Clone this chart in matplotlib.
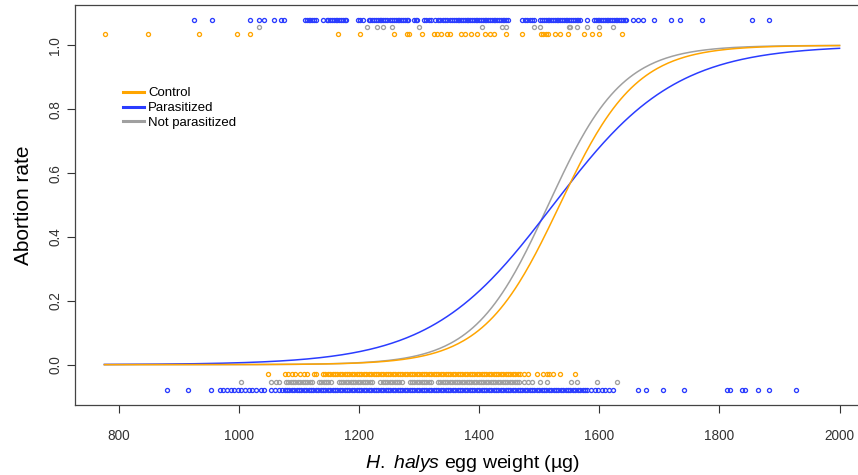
import numpy as np
import matplotlib
matplotlib.use("Agg")
import matplotlib.pyplot as plt

plt.rcParams["font.family"] = ["Liberation Sans", "DejaVu Sans"]
plt.rcParams["mathtext.fontset"] = "custom"
plt.rcParams["mathtext.it"] = "Liberation Sans:italic"
plt.rcParams["mathtext.rm"] = "Liberation Sans"

# logistic fits: (midpoint, slope)
groups = ["Control", "Parasitized", "Not parasitized"]
colors = ["#FFA500", "#2a3cff", "#A0A0A0"]
midpoints = [1534, 1523, 1515]
slopes = [0.0157, 0.0098, 0.0162]
x_fit_range = [776, 2000]

# jittered raw observations (aborted = top rows, not aborted = bottom rows)
ctrl_top = [777, 848, 934, 996, 1018, 1165, 1202, 1258, 1279, 1283, 1304, 1325,
            1330, 1336, 1347, 1351, 1369, 1377, 1387, 1397, 1410, 1418, 1425,
            1444, 1472, 1503, 1507, 1511, 1515, 1527, 1535, 1548, 1575, 1587,
            1599, 1637]
np_top = [1034, 1214, 1230, 1239, 1255, 1299, 1405, 1438, 1445, 1491, 1502,
          1549, 1552, 1562, 1580, 1599, 1623]
para_top = [925, 955, 1018, 1033, 1042, 1059, 1070, 1075, 1110, 1113, 1116,
            1119, 1122, 1125, 1128, 1140, 1146, 1149, 1152, 1155, 1158, 1161,
            1164, 1167, 1170, 1173, 1176, 1179, 1198, 1201, 1206, 1216, 1219,
            1222, 1225, 1228, 1231, 1234, 1237, 1240, 1243, 1246, 1252, 1255,
            1258, 1261, 1264, 1267, 1270, 1273, 1276, 1279, 1282, 1291, 1294,
            1297, 1308, 1312, 1316, 1320, 1327, 1331, 1335, 1339, 1343, 1347,
            1351, 1355, 1358, 1361, 1364, 1367, 1370, 1373, 1376, 1379, 1382,
            1385, 1388, 1391, 1394, 1397, 1400, 1403, 1406, 1409, 1412, 1415,
            1418, 1421, 1424, 1427, 1430, 1433, 1436, 1439, 1442, 1445, 1448,
            1472, 1476, 1480, 1484, 1488, 1492, 1502, 1505, 1508, 1511, 1514,
            1517, 1520, 1523, 1526, 1529, 1532, 1535, 1538, 1541, 1544, 1547,
            1550, 1553, 1556, 1559, 1562, 1565, 1568, 1580, 1591, 1594, 1597,
            1600, 1603, 1606, 1609, 1612, 1615, 1618, 1621, 1624, 1627, 1630,
            1633, 1636, 1639, 1642, 1645, 1656, 1664, 1673, 1691, 1720, 1734,
            1771, 1855, 1882]
ctrl_bot = [1049, 1076, 1082, 1088, 1094, 1102, 1108, 1113, 1125, 1129, 1140,
            1144, 1148, 1152, 1156, 1160, 1164, 1168, 1172, 1176, 1180, 1184,
            1188, 1192, 1196, 1200, 1204, 1208, 1212, 1216, 1220, 1224, 1228,
            1232, 1236, 1240, 1244, 1248, 1252, 1256, 1260, 1264, 1268, 1272,
            1276, 1280, 1284, 1288, 1292, 1296, 1300, 1304, 1308, 1312, 1316,
            1320, 1324, 1328, 1332, 1336, 1340, 1344, 1348, 1352, 1356, 1360,
            1364, 1368, 1372, 1376, 1380, 1384, 1388, 1392, 1396, 1400, 1404,
            1408, 1412, 1416, 1420, 1424, 1428, 1432, 1436, 1440, 1444, 1448,
            1452, 1456, 1460, 1464, 1468, 1475, 1481, 1497, 1506, 1513, 1517,
            1523, 1535, 1559]
np_bot = [1003, 1053, 1061, 1067, 1078, 1082, 1086, 1090, 1094, 1098, 1102,
          1106, 1110, 1114, 1118, 1122, 1133, 1137, 1141, 1145, 1149, 1153,
          1166, 1170, 1174, 1178, 1182, 1186, 1190, 1194, 1198, 1202, 1206,
          1210, 1214, 1218, 1222, 1235, 1239, 1243, 1247, 1251, 1255, 1259,
          1263, 1267, 1271, 1284, 1288, 1292, 1296, 1300, 1304, 1308, 1312,
          1316, 1320, 1331, 1335, 1339, 1343, 1347, 1351, 1355, 1359, 1363,
          1367, 1371, 1375, 1379, 1383, 1387, 1391, 1395, 1399, 1403, 1407,
          1411, 1415, 1419, 1423, 1427, 1431, 1435, 1439, 1443, 1447, 1451,
          1455, 1459, 1463, 1467, 1475, 1481, 1488, 1502, 1513, 1553, 1563,
          1596, 1629]
para_bot = [880, 915, 953, 968, 974, 980, 986, 992, 998, 1004, 1010, 1016,
            1022, 1028, 1036, 1042, 1054, 1060, 1066, 1072, 1076, 1080, 1084,
            1088, 1092, 1096, 1100, 1104, 1108, 1112, 1116, 1120, 1124, 1128,
            1132, 1136, 1140, 1144, 1148, 1152, 1156, 1160, 1164, 1168, 1172,
            1176, 1180, 1184, 1188, 1192, 1196, 1200, 1204, 1208, 1212, 1216,
            1220, 1224, 1228, 1232, 1236, 1240, 1244, 1248, 1252, 1256, 1260,
            1264, 1268, 1272, 1276, 1280, 1284, 1288, 1292, 1296, 1300, 1304,
            1308, 1312, 1316, 1320, 1324, 1328, 1332, 1336, 1340, 1344, 1348,
            1352, 1356, 1360, 1364, 1368, 1372, 1376, 1380, 1384, 1388, 1392,
            1396, 1400, 1404, 1408, 1412, 1416, 1420, 1424, 1428, 1432, 1436,
            1440, 1444, 1448, 1452, 1456, 1460, 1464, 1468, 1472, 1476, 1480,
            1484, 1488, 1492, 1496, 1500, 1504, 1508, 1512, 1516, 1520, 1524,
            1528, 1532, 1536, 1540, 1544, 1548, 1552, 1556, 1560, 1564, 1568,
            1572, 1576, 1580, 1586, 1592, 1598, 1604, 1610, 1616, 1623, 1664,
            1678, 1706, 1741, 1812, 1817, 1837, 1842, 1864, 1882, 1927]

top_rows = [ctrl_top, para_top, np_top]
bot_rows = [ctrl_bot, para_bot, np_bot]
top_y = [1.035, 1.08, 1.058]
bot_y = [-0.03, -0.08, -0.055]

W, H = 858, 475
fig = plt.figure(figsize=(W / 100, H / 100), dpi=100)
# box runs past the right edge, as in the cropped original
ax = fig.add_axes([75 / W, 1 - 405 / H, (869 - 75) / W, 400 / H])

for xs, y, c in zip(top_rows, top_y, colors):
    ax.plot(xs, np.full(len(xs), y), "o", mfc="none", mec=c, ms=2.9, mew=0.95)
for xs, y, c in zip(bot_rows, bot_y, colors):
    ax.plot(xs, np.full(len(xs), y), "o", mfc="none", mec=c, ms=2.9, mew=0.95)

xx = np.linspace(x_fit_range[0], x_fit_range[1], 400)
for i in [2, 1, 0]:
    yy = 1.0 / (1.0 + np.exp(-slopes[i] * (xx - midpoints[i])))
    ax.plot(xx, yy, color=colors[i], lw=1.1)

# R-style 4% padding
ax.set_xlim(727, 2049)
ax.set_ylim(-0.1264, 1.1264)
ax.set_xticks([800, 1000, 1200, 1400, 1600, 1800, 2000])
ax.set_yticks([0.0, 0.2, 0.4, 0.6, 0.8, 1.0])
ax.set_yticklabels(["0.0", "0.2", "0.4", "0.6", "0.8", "1.0"], rotation=90, va="center")
ax.tick_params(length=5.5, width=0.8, labelsize=9.8, colors="#333333")
ax.tick_params(axis="x", pad=12)
ax.tick_params(axis="y", pad=3.5)
for s in ax.spines.values():
    s.set_color("#444444")
    s.set_linewidth(0.9)

ax.set_xlabel(r"$\mathit{H.\ halys}$ egg weight (µg)", fontsize=14, labelpad=7)
ax.set_ylabel("Abortion rate", fontsize=15, labelpad=11)

handles = [plt.Line2D([], [], color=c, lw=2.2) for c in colors]
ax.legend(handles, groups, loc="upper left", bbox_to_anchor=(0.054, 0.808),
          frameon=False, fontsize=9.5, handlelength=1.6, handletextpad=0.3,
          labelspacing=0.2, borderaxespad=0)

fig.savefig("out.png", dpi=100)
